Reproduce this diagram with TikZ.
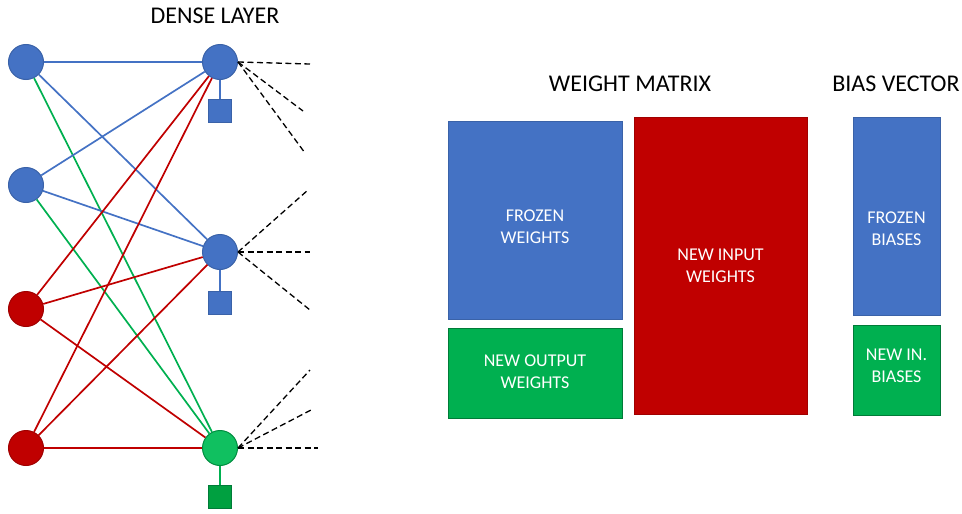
\documentclass[tikz,border=0pt]{standalone}
\usepackage{fontspec}
\setmainfont{Carlito}
\definecolor{cblue}{HTML}{4472C4}
\definecolor{cbluedk}{HTML}{3A62A8}
\definecolor{cred}{HTML}{C00000}
\definecolor{creddk}{HTML}{A00000}
\definecolor{cgreen}{HTML}{00B050}
\definecolor{cgreenl}{HTML}{10C060}
\definecolor{cgreendk}{HTML}{00A040}
\begin{document}
\begin{tikzpicture}[x=1pt,y=-1pt,
  neuron/.style={circle,minimum size=35pt,inner sep=0pt,line width=1pt},
  bluen/.style={neuron,fill=cblue,draw=cbluedk},
  redn/.style={neuron,fill=cred,draw=creddk},
  greenn/.style={neuron,fill=cgreenl,draw=cgreen!80!black},
  biasbox/.style={rectangle,minimum size=23pt,inner sep=0pt,line width=1pt},
  bl/.style={cblue,line width=1.7pt},
  rl/.style={cred,line width=1.7pt},
  gl/.style={cgreen,line width=1.7pt},
  dl/.style={black,line width=1.3pt,dash pattern=on 6pt off 3.5pt},
  blk/.style={rectangle,inner sep=0pt,line width=1pt},
  blktxt/.style={text=white,align=center,font=\fontsize{18}{22}\selectfont},
  ttl/.style={font=\fontsize{24}{28}\selectfont}]
\useasboundingbox (0,0) rectangle (962,514);
% inputs
\node[bluen] (i1) at (26,62) {};
\node[bluen] (i2) at (26,185) {};
\node[redn] (i3) at (26,309) {};
\node[redn] (i4) at (26,448) {};
% dense
\node[bluen] (d1) at (220,62) {};
\node[bluen] (d2) at (220,252) {};
\node[greenn] (d3) at (220,448) {};
\node[biasbox,fill=cblue,draw=cbluedk] (b1) at (220,111) {};
\node[biasbox,fill=cblue,draw=cbluedk] (b2) at (220,303) {};
\node[biasbox,fill=cgreendk,draw=cgreen!70!black] (b3) at (220,497) {};
\draw[bl] (d1) -- (b1);
\draw[bl] (d2) -- (b2);
\draw[gl] (d3) -- (b3);
% edges
\draw[gl] (i1) -- (d3);
\draw[gl] (i2) -- (d3);
\draw[bl] (i1) -- (d1);
\draw[bl] (i1) -- (d2);
\draw[bl] (i2) -- (d1);
\draw[bl] (i2) -- (d2);
\draw[rl] (i3) -- (d1);
\draw[rl] (i3) -- (d2);
\draw[rl] (i3) -- (d3);
\draw[rl] (i4) -- (d1);
\draw[rl] (i4) -- (d2);
\draw[rl] (i4) -- (d3);
% dashed outputs
\coordinate (o11) at (310,64);
\coordinate (o12) at (303,111);
\coordinate (o13) at (305,153);
\coordinate (o21) at (308,190);
\coordinate (o22) at (310,252);
\coordinate (o23) at (310,310);
\coordinate (o31) at (310,370);
\coordinate (o32) at (311,410);
\coordinate (o33) at (318,448);
\foreach \n/\o in {d1/o11,d1/o12,d1/o13,d2/o21,d2/o22,d2/o23,d3/o31,d3/o32,d3/o33}
  \draw[dl] (\n.east) -- (\o);
\node[ttl] (t1) at (215,16) {DENSE LAYER};
% matrix
\node[ttl] (t2) at (630,84) {WEIGHT MATRIX};
\node[ttl] (t3) at (896,84) {BIAS VECTOR};
\node[blk,fill=cblue,draw=cbluedk,minimum width=174pt,minimum height=198pt] (fw) at (535,220) {};
\node[blk,fill=cgreen,draw=cgreen!70!black,minimum width=174pt,minimum height=90pt] (nw) at (535,373) {};
\node[blk,fill=cred,draw=creddk,minimum width=173pt,minimum height=297pt] (iw) at (720.5,265.5) {};
\node[blk,fill=cblue,draw=cbluedk,minimum width=87pt,minimum height=198pt] (fb) at (896.5,216) {};
\node[blk,fill=cgreen,draw=cgreen!70!black,minimum width=87pt,minimum height=90pt] (nb) at (896.5,370) {};
\node[blktxt] (fwt) at ([yshift=-7pt]fw.center) {FROZEN\\WEIGHTS};
\node[blktxt] (nwt) at ([yshift=1pt]nw.center) {NEW OUTPUT\\WEIGHTS};
\node[blktxt] (iwt) at (iw.center) {NEW INPUT\\WEIGHTS};
\node[blktxt] (fbt) at ([yshift=-13pt]fb.center) {FROZEN\\BIASES};
\node[blktxt] (nbt) at ([yshift=4pt]nb.center) {NEW IN.\\BIASES};
\end{tikzpicture}
\end{document}
